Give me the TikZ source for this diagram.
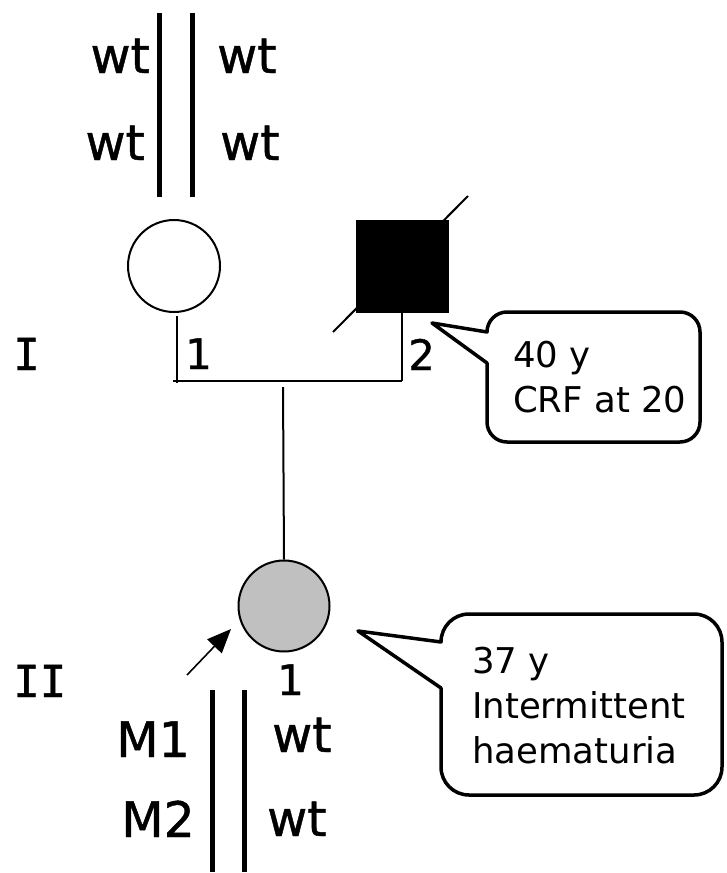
\documentclass[tikz,border=0pt]{standalone}
\usepackage{fontspec}
\setmainfont{DejaVu Sans}
\newfontfamily\heavyfont{DejaVu Sans}[FakeBold=0.9]
\newfontfamily\romanfont{DejaVu Sans Mono}[FakeBold=0.9]
\usetikzlibrary{arrows.meta}
\definecolor{affgray}{RGB}{192,192,192}
\begin{document}
\begin{tikzpicture}[x=1pt,y=1pt,
  big/.style={font=\heavyfont\fontsize{49}{56}\selectfont, inner sep=0pt},
  lab/.style={font=\heavyfont\fontsize{42}{50}\selectfont, inner sep=0pt, anchor=base west},
  gen/.style={font=\romanfont\fontsize{44}{52}\selectfont, inner sep=0pt, anchor=base west},
  note/.style={font=\fontsize{35.5}{45}\selectfont, inner sep=0pt, anchor=base west},
  chrom/.style={line width=5pt},
  ped/.style={line width=2pt},
  bubble/.style={line width=3.5pt, line join=round, fill=white}]

\useasboundingbox (0,0) rectangle (726,-873);

% ---- top chromosomes (I-1)
\coordinate (ta1) at (159,-13);  \coordinate (tb1) at (159,-197);
\coordinate (ta2) at (192,-13);  \coordinate (tb2) at (192,-197);
\draw[chrom] (ta1) -- (tb1);
\draw[chrom] (ta2) -- (tb2);
\node[big, anchor=base east] (wtA) at (150,-73) {wt};
\node[big, anchor=base west] (wtB) at (217,-73) {wt};
\node[big, anchor=base east] (wtC) at (145,-160) {wt};
\node[big, anchor=base west] (wtD) at (220,-160) {wt};

% ---- generation I
\node[ped, draw, circle, minimum size=92pt, inner sep=0pt] (p11) at (174,-266) {};
\node[draw, fill=black, minimum size=92pt, inner sep=0pt] (p12) at (402,-266) {};
\coordinate (sl1) at (333,-332); \coordinate (sl2) at (468,-196);
\draw[ped] (sl1) -- (sl2);

\coordinate (v1t) at (177,-316); \coordinate (v1b) at (177,-383);
\coordinate (hl) at (173,-381);  \coordinate (hr) at (402,-381);
\draw[ped] (v1t) -- (v1b);
\draw[ped] (hl) -- (hr);
\draw[ped] (p12.south) -- (hr);

\node[lab] (n11) at (185,-369) {1};
\node[lab] (n12) at (408,-370) {2};
\node[gen] (gI) at (13,-370) {I};

% ---- generation II
\node[ped, draw, circle, fill=affgray, minimum size=91pt, inner sep=0pt] (p21) at (284,-606) {};
\coordinate (dtop) at (283,-387);
\draw[ped] (dtop) -- (p21.north);

\coordinate (arS) at (187,-675); \coordinate (arE) at (231,-629);
\draw[line width=1.6pt, -{Triangle[length=24pt,width=20pt]}] (arS) -- (arE);

\node[lab] (n21) at (277,-695) {1};
\node[gen] (gII) at (13,-697) {II};

% ---- bottom chromosomes (II-1)
\coordinate (ba1) at (212,-690); \coordinate (bb1) at (212,-872);
\coordinate (ba2) at (244,-690); \coordinate (bb2) at (244,-872);
\draw[chrom] (ba1) -- (bb1);
\draw[chrom] (ba2) -- (bb2);
\node[big, anchor=base east] (m1) at (190,-757) {M1};
\node[big, anchor=base west] (wtE) at (272,-752) {wt};
\node[big, anchor=base east] (m2) at (195,-837) {M2};
\node[big, anchor=base west] (wtF) at (267,-836) {wt};

% ---- callout for I-2
\coordinate (tip1) at (432,-323);
\draw[bubble] (tip1) -- (487,-332) arc[start angle=180, end angle=90, radius=20]
  -- (680,-312) arc[start angle=90, end angle=0, radius=20]
  -- (700,-422) arc[start angle=0, end angle=-90, radius=20]
  -- (507,-442) arc[start angle=-90, end angle=-180, radius=20]
  -- (487,-363) -- cycle;
\node[note] (c1a) at (513,-367) {40 y};
\node[note] (c1b) at (513,-412) {CRF at 20};

% ---- callout for II-1
\coordinate (tip2) at (358,-631);
\draw[bubble] (tip2) -- (441,-642) arc[start angle=180, end angle=90, radius=28]
  -- (694,-614) arc[start angle=90, end angle=0, radius=28]
  -- (722,-767) arc[start angle=0, end angle=-90, radius=28]
  -- (469,-795) arc[start angle=-90, end angle=-180, radius=28]
  -- (441,-688) -- cycle;
\node[note] (c2a) at (472,-673) {37 y};
\node[note] (c2b) at (472,-718) {Intermittent};
\node[note] (c2c) at (472,-763) {haematuria};
\end{tikzpicture}
\end{document}
